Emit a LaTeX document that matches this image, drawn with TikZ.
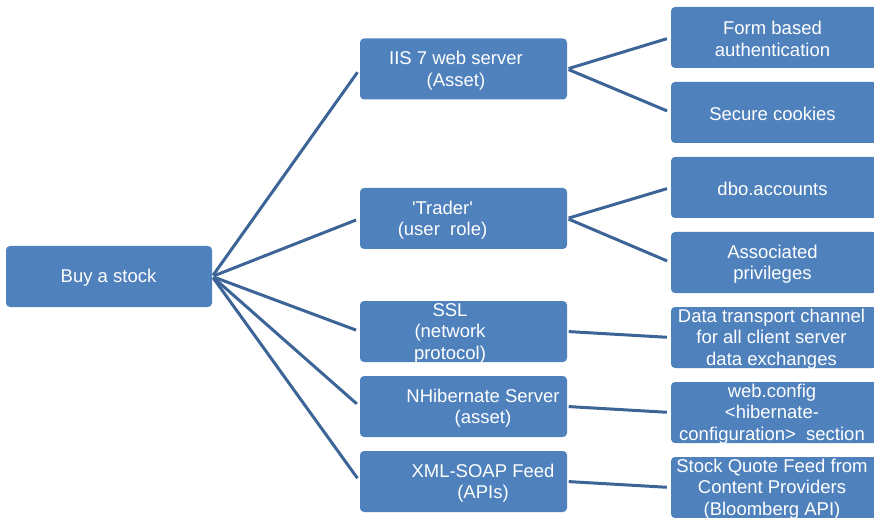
\documentclass[tikz,border=0pt]{standalone}
\usepackage{fontspec}
\setmainfont{Liberation Sans}
\definecolor{boxblue}{RGB}{79,129,189}
\definecolor{linkblue}{RGB}{60,100,150}
\begin{document}
\begin{tikzpicture}[x=1pt,y=-1pt,
  box/.style={fill=boxblue, rounded corners=4pt, minimum width=207pt, minimum height=61pt, inner sep=0pt},
  txt/.style={text=white, font=\fontsize{18.5}{21.5}\selectfont, align=center, inner sep=0pt, yshift=-1.5pt},
  link/.style={draw=linkblue, line width=3pt, shorten >=4pt, shorten <=1.5pt}]
\useasboundingbox (0,0) rectangle (874,518);
\clip (0,0) rectangle (874,518);
% boxes
\node[box,minimum width=206pt] (root) at (109,276.5) {};
\node[box] (iis)    at (463.5,69)    {};
\node[box] (trader) at (463.5,218.5) {};
\node[box] (ssl)    at (463.5,331.5) {};
\node[box] (nhib)   at (463.5,406.5) {};
\node[box] (xml)    at (463.5,481.5) {};
\node[box,minimum width=206pt] (form)   at (774,37.5)  {};
\node[box,minimum width=206pt] (secure) at (774,112.5) {};
\node[box,minimum width=206pt] (dbo)    at (774,187.5) {};
\node[box,minimum width=206pt] (assoc)  at (774,262.5) {};
\node[box,minimum width=206pt] (data)   at (774,337.5) {};
\node[box,minimum width=206pt] (web)    at (774,412.5) {};
\node[box,minimum width=206pt] (stock)  at (774,487.5) {};
% texts
\node[txt] (troot)   at ([xshift=-0.5pt]root.center) {Buy a stock};
\node[txt] (tiis)    at ([xshift=-7.5pt]iis.center) {IIS 7 web server\\(Asset)};
\node[txt] (ttrader) at ([xshift=-21pt]trader.center) {\textquotesingle Trader\textquotesingle\\(user\ \ role)};
\node[txt] (tssl)    at ([xshift=-13.5pt]ssl.center) {SSL\\(network\\protocol)};
\node[txt] (tnhib)   at ([xshift=19.5pt]nhib.center) {NHibernate Server\\(asset)};
\node[txt] (txml)    at ([xshift=19.5pt]xml.center) {XML-SOAP Feed\\(APIs)};
\node[txt] (tform)   at ([xshift=-1.5pt]form.center) {Form based\\authentication};
\node[txt] (tsecure) at ([xshift=-1.5pt]secure.center) {Secure cookies};
\node[txt] (tdbo)    at ([xshift=-1.5pt]dbo.center) {dbo.accounts};
\node[txt] (tassoc)  at ([xshift=-1.5pt]assoc.center) {Associated\\privileges};
\node[txt] (tdata)   at ([xshift=-2.5pt]data.center) {Data transport channel\\for all client server\\data exchanges};
\node[txt] (tweb)    at ([xshift=-2pt]web.center) {web.config\\\textless hibernate-\\configuration\textgreater\ \ section};
\node[txt] (tstock)  at ([xshift=-2pt]stock.center) {Stock Quote Feed from\\Content Providers\\(Bloomberg API)};
% connectors
\draw[link] (root.east) -- (iis.west);
\draw[link] (root.east) -- (trader.west);
\draw[link] (root.east) -- (ssl.west);
\draw[link] (root.east) -- (nhib.west);
\draw[link] (root.east) -- (xml.west);
\draw[link] (iis.east) -- (form.west);
\draw[link] (iis.east) -- (secure.west);
\draw[link] (trader.east) -- (dbo.west);
\draw[link] (trader.east) -- (assoc.west);
\draw[link] (ssl.east) -- (data.west);
\draw[link] (nhib.east) -- (web.west);
\draw[link] (xml.east) -- (stock.west);
\end{tikzpicture}
\end{document}
